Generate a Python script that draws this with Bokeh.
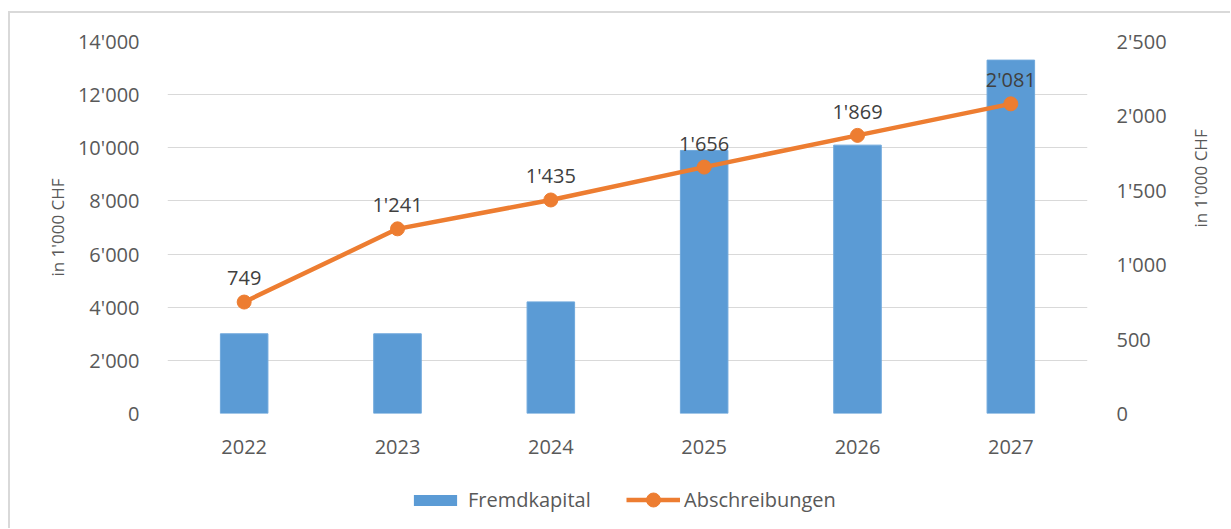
import math
from bokeh.plotting import figure
from bokeh.layouts import column
from bokeh.models import (Range1d, LinearAxis, FixedTicker, Legend, LegendItem,
                          ColumnDataSource, FactorRange)
from bokeh.core.properties import value
from bokeh.embed import file_html
from bokeh.resources import INLINE

years = ["2022", "2023", "2024", "2025", "2026", "2027"]
fremdkapital = [3000, 3000, 4200, 9900, 10100, 13300]
abschreibungen = [749, 1241, 1435, 1656, 1869, 2081]
left_ticks = [0, 2000, 4000, 6000, 8000, 10000, 12000, 14000]
right_ticks = [0, 500, 1000, 1500, 2000, 2500]
left_title = "in 1'000 CHF"
right_title = "in 1'000  CHF"
series_names = ["Fremdkapital", "Abschreibungen"]


def fmt(v):
    return f"{v:,}".replace(",", "'")


FONT = "Open Sans"
TXT = "#595959"
BLUE = "#5B9BD5"
ORANGE = "#ED7D31"

src = ColumnDataSource(dict(
    year=years,
    fk=fremdkapital,
    ab=abschreibungen,
    ab_label=[fmt(v) for v in abschreibungen],
))

W = 1220
p = figure(
    x_range=FactorRange(*years), y_range=Range1d(0, 14000),
    width=W, height=460, output_backend="svg", toolbar_location=None,
    min_border_left=157, min_border_right=143, min_border_top=28, min_border_bottom=60,
)
p.outline_line_color = None
p.extra_y_ranges = {"right": Range1d(0, 2500)}

p.vbar(x="year", top="fk", width=0.31, source=src,
       fill_color=BLUE, line_color="#6FA8DC", line_width=1)
p.line(x="year", y="ab", y_range_name="right", source=src,
       line_color=ORANGE, line_width=4.5)
p.scatter(x="year", y="ab", y_range_name="right", source=src, size=14,
          fill_color=ORANGE, line_color=ORANGE)
p.text(x="year", y="ab", text="ab_label", y_range_name="right", source=src,
       text_align="center", text_baseline="alphabetic", y_offset=-24,
       text_font=value(FONT), text_font_size="20px", text_color="#404040")

# grid
p.xgrid.visible = False
p.ygrid.ticker = FixedTicker(ticks=left_ticks)
p.ygrid.grid_line_color = "#d9d9d9"
p.ygrid.grid_line_width = 1.2

# left axis
ya = p.yaxis[0]
ya.ticker = FixedTicker(ticks=left_ticks)
ya.major_label_overrides = {t: fmt(t) for t in left_ticks}
ya.axis_label = left_title

# right axis
ra = LinearAxis(y_range_name="right", ticker=FixedTicker(ticks=right_ticks))
ra.major_label_overrides = {t: fmt(t) for t in right_ticks}
ra.axis_label = right_title
p.add_layout(ra, "right")

for ax in (ya, ra, p.xaxis[0]):
    ax.axis_line_color = None
    ax.major_tick_line_color = None
    ax.minor_tick_line_color = None
    ax.major_label_text_font = FONT
    ax.major_label_text_font_size = "20px"
    ax.major_label_text_color = TXT
    ax.axis_label_text_font = FONT
    ax.axis_label_text_font_size = "17px"
    ax.axis_label_text_font_style = "normal"
    ax.axis_label_text_color = TXT
ya.major_label_standoff = 22
ra.major_label_standoff = 23
ya.axis_label_standoff = 6
ra.axis_label_standoff = 31
if "axis_label_orientation" in ra.properties():
    ra.axis_label_orientation = math.pi / 2
p.xaxis[0].major_label_standoff = 20

# legend strip (separate small figure so the legend is not clipped);
# its glyphs use the same data but lie outside its visible y range
lf = figure(width=W, height=55, output_backend="svg", toolbar_location=None,
            x_range=FactorRange(*years), y_range=Range1d(-10, -5),
            x_axis_location=None, y_axis_location=None,
            min_border_left=0, min_border_right=0, min_border_top=0, min_border_bottom=0)
lf.outline_line_color = None
lf.grid.visible = False
lb = lf.vbar(x="year", top="fk", width=0.0001, source=src,
             fill_color=BLUE, line_color=None)
ll = lf.line(x="year", y="ab", source=src, line_color=ORANGE, line_width=4.5)
ls = lf.scatter(x="year", y="ab", source=src, size=14,
                fill_color=ORANGE, line_color=ORANGE)

common = dict(orientation="horizontal", padding=0, margin=0, border_line_color=None,
              background_fill_alpha=0, label_text_font=FONT,
              label_text_font_size="20px", label_text_color=TXT, glyph_width=54)
leg1 = Legend(items=[LegendItem(label=series_names[0], renderers=[lb])],
              location=(241, 15), glyph_height=14, label_standoff=6, **common)
leg2 = Legend(items=[LegendItem(label=series_names[1], renderers=[ll, ls])],
              location=(459, 11), glyph_height=35, label_standoff=4, **common)
lf.add_layout(leg1)
lf.add_layout(leg2)

layout = column(p, lf, spacing=0)
layout.styles = {"border-left": "2px solid #d9d9d9", "border-top": "2px solid #d9d9d9",
                 "margin-top": "11px", "margin-left": "8px"}

open("out.html", "w").write(file_html(layout, INLINE))
